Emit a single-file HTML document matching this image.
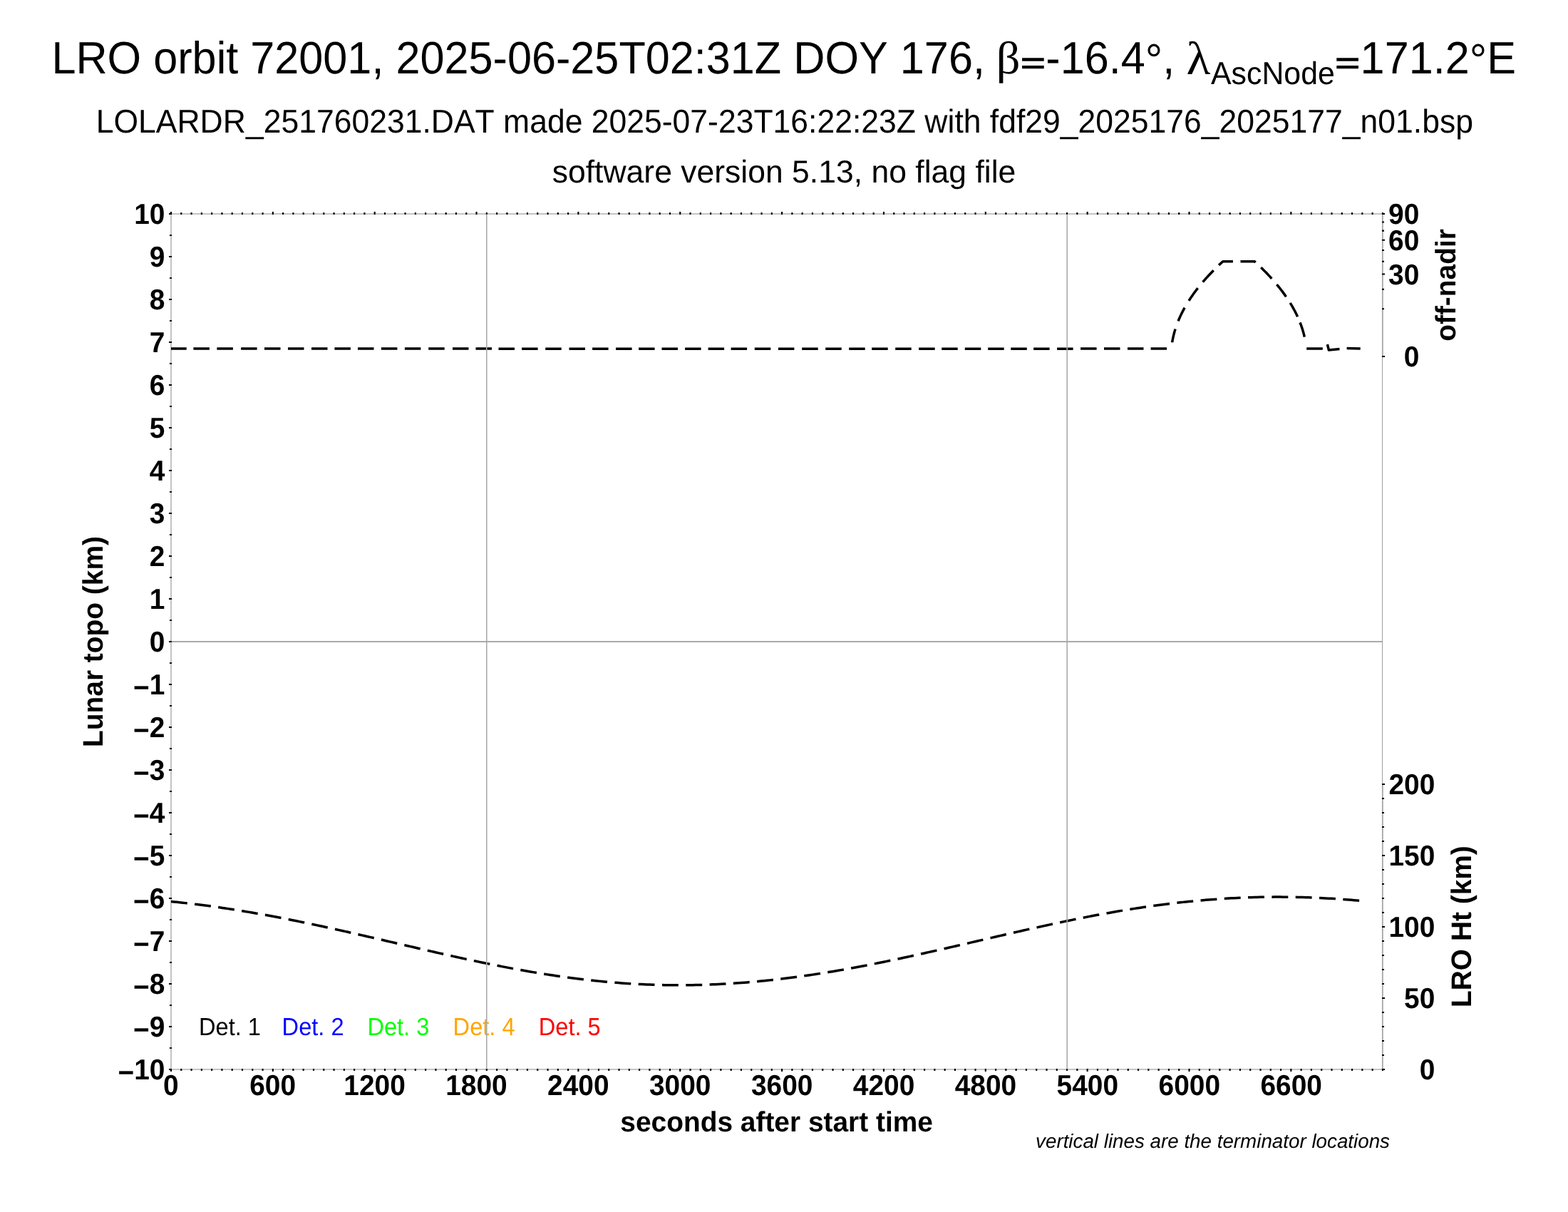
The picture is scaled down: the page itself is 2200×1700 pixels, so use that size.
<!DOCTYPE html>
<html lang="en"><head><meta charset="utf-8"><title>LRO orbit 72001</title>
<style>
html,body{margin:0;padding:0;background:#fff;}
body{width:2200px;height:1700px;overflow:hidden;}
svg{display:block;}
text{font-family:"Liberation Sans",sans-serif;fill:#000;font-kerning:none;font-variant-ligatures:none;text-rendering:geometricPrecision;}
.b{font-weight:bold;}
.i{font-style:italic;}
.sym{font-family:"Liberation Serif","DejaVu Serif",serif;}
.tk{font-weight:bold;font-size:38.89px;}
</style></head><body>
<svg width="2200" height="1700" viewBox="0 0 2200 1700" role="img" aria-label="LRO orbit 72001 LOLA RDR summary plot">
<rect x="0" y="0" width="2200" height="1700" fill="#fff"/>
<g id="titles">
<text transform="translate(72.4 102.8) scale(1 1.04)" font-size="61.2px">LRO orbit 72001, 2025-06-25T02:31Z DOY 176, </text>
<text transform="translate(1397.65 102.8) scale(1.085 1.051)" font-size="61.11px" class="sym">β</text>
<text transform="translate(1431.6 102.25) scale(1 0.65)" font-size="61.2px" class="b">=</text>
<text transform="translate(1467.3 102.8) scale(1 1.04)" font-size="61.2px">-16.4<tspan dy="2.6">°</tspan><tspan dy="-2.6">, </tspan></text>
<text transform="translate(1664.6 103.84) scale(1.1454 1.0737)" font-size="61.11px" class="sym">λ</text>
<text transform="translate(1699 117.8) scale(1 1.04)" font-size="42.84px">AscNode</text>
<text transform="translate(1872.85 102.25) scale(1 0.65)" font-size="61.2px" class="b">=</text>
<text transform="translate(1908.6 102.8) scale(1 1.04)" font-size="61.2px">171.2<tspan dy="2.6">°</tspan><tspan dy="-2.6">E</tspan></text>
<text transform="translate(1100.8 185.8) scale(1 1.04)" font-size="44.51px" text-anchor="middle">LOLARDR_251760231.DAT made 2025-07-23T16:22:23Z with fdf29_2025176_2025177_n01.bsp</text>
<text transform="translate(1100 255.8)" font-size="44.51px" text-anchor="middle">software version 5.13, no flag file</text>
</g>
<path id="frame" d="M1940 300H240V1500H1940M1940 300V500M1940 1100V1500" fill="none" stroke="#c4c4c4" stroke-width="2.08" stroke-linecap="square"/>
<line x1="1939.55" y1="300" x2="1939.55" y2="1500" stroke="#a5a5a5" stroke-width="1.15"/>
<path id="ticks" d="M240 1499V1503M240 301V297M254.29 1499V1502M254.29 301V298M268.57 1499V1502M268.57 301V298M282.86 1499V1502M282.86 301V298M297.14 1499V1502M297.14 301V298M311.43 1499V1502M311.43 301V298M325.71 1499V1502M325.71 301V298M340 1499V1502M340 301V298M354.28 1499V1502M354.28 301V298M368.57 1499V1502M368.57 301V298M382.85 1499V1503M382.85 301V297M397.14 1499V1502M397.14 301V298M411.42 1499V1502M411.42 301V298M425.71 1499V1502M425.71 301V298M439.99 1499V1502M439.99 301V298M454.28 1499V1502M454.28 301V298M468.56 1499V1502M468.56 301V298M482.85 1499V1502M482.85 301V298M497.13 1499V1502M497.13 301V298M511.42 1499V1502M511.42 301V298M525.7 1499V1503M525.7 301V297M539.99 1499V1502M539.99 301V298M554.27 1499V1502M554.27 301V298M568.56 1499V1502M568.56 301V298M582.84 1499V1502M582.84 301V298M597.13 1499V1502M597.13 301V298M611.41 1499V1502M611.41 301V298M625.7 1499V1502M625.7 301V298M639.98 1499V1502M639.98 301V298M654.27 1499V1502M654.27 301V298M668.55 1499V1503M668.55 301V297M682.84 1499V1502M682.84 301V298M697.12 1499V1502M697.12 301V298M711.41 1499V1502M711.41 301V298M725.69 1499V1502M725.69 301V298M739.98 1499V1502M739.98 301V298M754.26 1499V1502M754.26 301V298M768.55 1499V1502M768.55 301V298M782.83 1499V1502M782.83 301V298M797.12 1499V1502M797.12 301V298M811.4 1499V1503M811.4 301V297M825.69 1499V1502M825.69 301V298M839.97 1499V1502M839.97 301V298M854.26 1499V1502M854.26 301V298M868.54 1499V1502M868.54 301V298M882.83 1499V1502M882.83 301V298M897.11 1499V1502M897.11 301V298M911.4 1499V1502M911.4 301V298M925.68 1499V1502M925.68 301V298M939.97 1499V1502M939.97 301V298M954.25 1499V1503M954.25 301V297M968.54 1499V1502M968.54 301V298M982.83 1499V1502M982.83 301V298M997.11 1499V1502M997.11 301V298M1011.4 1499V1502M1011.4 301V298M1025.68 1499V1502M1025.68 301V298M1039.97 1499V1502M1039.97 301V298M1054.25 1499V1502M1054.25 301V298M1068.54 1499V1502M1068.54 301V298M1082.82 1499V1502M1082.82 301V298M1097.11 1499V1503M1097.11 301V297M1111.39 1499V1502M1111.39 301V298M1125.68 1499V1502M1125.68 301V298M1139.96 1499V1502M1139.96 301V298M1154.25 1499V1502M1154.25 301V298M1168.53 1499V1502M1168.53 301V298M1182.82 1499V1502M1182.82 301V298M1197.1 1499V1502M1197.1 301V298M1211.39 1499V1502M1211.39 301V298M1225.67 1499V1502M1225.67 301V298M1239.96 1499V1503M1239.96 301V297M1254.24 1499V1502M1254.24 301V298M1268.53 1499V1502M1268.53 301V298M1282.81 1499V1502M1282.81 301V298M1297.1 1499V1502M1297.1 301V298M1311.38 1499V1502M1311.38 301V298M1325.67 1499V1502M1325.67 301V298M1339.95 1499V1502M1339.95 301V298M1354.24 1499V1502M1354.24 301V298M1368.52 1499V1502M1368.52 301V298M1382.81 1499V1503M1382.81 301V297M1397.09 1499V1502M1397.09 301V298M1411.38 1499V1502M1411.38 301V298M1425.66 1499V1502M1425.66 301V298M1439.95 1499V1502M1439.95 301V298M1454.23 1499V1502M1454.23 301V298M1468.52 1499V1502M1468.52 301V298M1482.8 1499V1502M1482.8 301V298M1497.09 1499V1502M1497.09 301V298M1511.37 1499V1502M1511.37 301V298M1525.66 1499V1503M1525.66 301V297M1539.94 1499V1502M1539.94 301V298M1554.23 1499V1502M1554.23 301V298M1568.51 1499V1502M1568.51 301V298M1582.8 1499V1502M1582.8 301V298M1597.08 1499V1502M1597.08 301V298M1611.37 1499V1502M1611.37 301V298M1625.65 1499V1502M1625.65 301V298M1639.94 1499V1502M1639.94 301V298M1654.22 1499V1502M1654.22 301V298M1668.51 1499V1503M1668.51 301V297M1682.8 1499V1502M1682.8 301V298M1697.08 1499V1502M1697.08 301V298M1711.37 1499V1502M1711.37 301V298M1725.65 1499V1502M1725.65 301V298M1739.94 1499V1502M1739.94 301V298M1754.22 1499V1502M1754.22 301V298M1768.51 1499V1502M1768.51 301V298M1782.79 1499V1502M1782.79 301V298M1797.08 1499V1502M1797.08 301V298M1811.36 1499V1503M1811.36 301V297M1825.65 1499V1502M1825.65 301V298M1839.93 1499V1502M1839.93 301V298M1854.22 1499V1502M1854.22 301V298M1868.5 1499V1502M1868.5 301V298M1882.79 1499V1502M1882.79 301V298M1897.07 1499V1502M1897.07 301V298M1911.36 1499V1502M1911.36 301V298M1925.64 1499V1502M1925.64 301V298M1939.93 1499V1502M1939.93 301V298M241 1500H237M241 1470H238M241 1440H237M241 1410H238M241 1380H237M241 1350H238M241 1320H237M241 1290H238M241 1260H237M241 1230H238M241 1200H237M241 1170H238M241 1140H237M241 1110H238M241 1080H237M241 1050H238M241 1020H237M241 990H238M241 960H237M241 930H238M241 900H237M241 870H238M241 840H237M241 810H238M241 780H237M241 750H238M241 720H237M241 690H238M241 660H237M241 630H238M241 600H237M241 570H238M241 540H237M241 510H238M241 480H237M241 450H238M241 420H237M241 390H238M241 360H237M241 330H238M241 300H237M1939 500H1943M1939 433.33H1942M1939 405.72H1942M1939 384.53H1943M1939 366.67H1942M1939 350.93H1942M1939 336.7H1943M1939 323.62H1942M1939 311.44H1942M1939 300H1943M1939 1500H1943M1939 1480H1942M1939 1460H1942M1939 1440H1942M1939 1420H1942M1939 1400H1943M1939 1380H1942M1939 1360H1942M1939 1340H1942M1939 1320H1942M1939 1300H1943M1939 1280H1942M1939 1260H1942M1939 1240H1942M1939 1220H1942M1939 1200H1943M1939 1180H1942M1939 1160H1942M1939 1140H1942M1939 1120H1942M1939 1100H1943" stroke="#000" stroke-width="2.08" fill="none"/>
<g id="xlabels" class="tk">
<text transform="translate(239.7 1536.2) scale(1 1.04)" text-anchor="middle">0</text>
<text transform="translate(382.61 1536.2) scale(1 1.04)" text-anchor="middle">600</text>
<text transform="translate(525.51 1536.2) scale(1 1.04)" text-anchor="middle">1200</text>
<text transform="translate(668.42 1536.2) scale(1 1.04)" text-anchor="middle">1800</text>
<text transform="translate(811.32 1536.2) scale(1 1.04)" text-anchor="middle">2400</text>
<text transform="translate(954.23 1536.2) scale(1 1.04)" text-anchor="middle">3000</text>
<text transform="translate(1097.13 1536.2) scale(1 1.04)" text-anchor="middle">3600</text>
<text transform="translate(1240.04 1536.2) scale(1 1.04)" text-anchor="middle">4200</text>
<text transform="translate(1382.94 1536.2) scale(1 1.04)" text-anchor="middle">4800</text>
<text transform="translate(1525.85 1536.2) scale(1 1.04)" text-anchor="middle">5400</text>
<text transform="translate(1668.76 1536.2) scale(1 1.04)" text-anchor="middle">6000</text>
<text transform="translate(1811.66 1536.2) scale(1 1.04)" text-anchor="middle">6600</text>
</g>
<g id="ylabels" class="tk">
<text transform="translate(231.4 314.1) scale(1 1.04)" text-anchor="end">10</text>
<text transform="translate(231.4 374.1) scale(1 1.04)" text-anchor="end">9</text>
<text transform="translate(231.4 434.1) scale(1 1.04)" text-anchor="end">8</text>
<text transform="translate(231.4 494.1) scale(1 1.04)" text-anchor="end">7</text>
<text transform="translate(231.4 554.1) scale(1 1.04)" text-anchor="end">6</text>
<text transform="translate(231.4 614.1) scale(1 1.04)" text-anchor="end">5</text>
<text transform="translate(231.4 674.1) scale(1 1.04)" text-anchor="end">4</text>
<text transform="translate(231.4 734.1) scale(1 1.04)" text-anchor="end">3</text>
<text transform="translate(231.4 794.1) scale(1 1.04)" text-anchor="end">2</text>
<text transform="translate(231.4 854.1) scale(1 1.04)" text-anchor="end">1</text>
<text transform="translate(231.4 914.1) scale(1 1.04)" text-anchor="end">0</text>
<text transform="translate(231.4 974.1) scale(1 1.04)" text-anchor="end"><tspan dy="3.9">−</tspan><tspan dy="-3.9">1</tspan></text>
<text transform="translate(231.4 1034.1) scale(1 1.04)" text-anchor="end"><tspan dy="3.9">−</tspan><tspan dy="-3.9">2</tspan></text>
<text transform="translate(231.4 1094.1) scale(1 1.04)" text-anchor="end"><tspan dy="3.9">−</tspan><tspan dy="-3.9">3</tspan></text>
<text transform="translate(231.4 1154.1) scale(1 1.04)" text-anchor="end"><tspan dy="3.9">−</tspan><tspan dy="-3.9">4</tspan></text>
<text transform="translate(231.4 1214.1) scale(1 1.04)" text-anchor="end"><tspan dy="3.9">−</tspan><tspan dy="-3.9">5</tspan></text>
<text transform="translate(231.4 1274.1) scale(1 1.04)" text-anchor="end"><tspan dy="3.9">−</tspan><tspan dy="-3.9">6</tspan></text>
<text transform="translate(231.4 1334.1) scale(1 1.04)" text-anchor="end"><tspan dy="3.9">−</tspan><tspan dy="-3.9">7</tspan></text>
<text transform="translate(231.4 1394.1) scale(1 1.04)" text-anchor="end"><tspan dy="3.9">−</tspan><tspan dy="-3.9">8</tspan></text>
<text transform="translate(231.4 1454.1) scale(1 1.04)" text-anchor="end"><tspan dy="3.9">−</tspan><tspan dy="-3.9">9</tspan></text>
<text transform="translate(231.4 1514.1) scale(1 1.04)" text-anchor="end"><tspan dy="3.9">−</tspan><tspan dy="-3.9">10</tspan></text>
</g>
<g id="rlabels" class="tk">
<text transform="translate(1991.3 314.1) scale(1 1.04)" text-anchor="end">90</text>
<text transform="translate(1991.3 350.8) scale(1 1.04)" text-anchor="end">60</text>
<text transform="translate(1991.3 398.63) scale(1 1.04)" text-anchor="end">30</text>
<text transform="translate(1991.3 514.1) scale(1 1.04)" text-anchor="end">0</text>
<text transform="translate(2013.3 1114.1) scale(1 1.04)" text-anchor="end">200</text>
<text transform="translate(2013.3 1214.1) scale(1 1.04)" text-anchor="end">150</text>
<text transform="translate(2013.3 1314.1) scale(1 1.04)" text-anchor="end">100</text>
<text transform="translate(2013.3 1414.1) scale(1 1.04)" text-anchor="end">50</text>
<text transform="translate(2013.3 1514.1) scale(1 1.04)" text-anchor="end">0</text>
</g>
<g id="axlabels">
<text transform="translate(1089.6 1587.4) scale(1 1.02)" font-size="38.89px" class="b" text-anchor="middle">seconds after start time</text>
<text transform="translate(144.2 900) rotate(-90) scale(1 1.02)" font-size="38.89px" class="b" text-anchor="middle">Lunar topo (km)</text>
<text transform="translate(2042.1 400) rotate(-90) scale(1 1.02)" font-size="38.89px" class="b" text-anchor="middle">off-nadir</text>
<text transform="translate(2064 1299.6) rotate(-90) scale(1 1.02)" font-size="38.89px" class="b" text-anchor="middle">LRO Ht (km)</text>
</g>
<text transform="translate(1950 1610.3)" font-size="27.78px" class="i" text-anchor="end">vertical lines are the terminator locations</text>
<g id="legend">
<text transform="translate(279 1451.8) scale(1 1.065)" font-size="32.6px" style="fill:#000">Det. 1</text>
<text transform="translate(395.6 1451.8) scale(1 1.065)" font-size="32.6px" style="fill:#0000ff">Det. 2</text>
<text transform="translate(515.4 1451.8) scale(1 1.065)" font-size="32.6px" style="fill:#00ff00">Det. 3</text>
<text transform="translate(635.6 1451.8) scale(1 1.065)" font-size="32.6px" style="fill:#ffa500">Det. 4</text>
<text transform="translate(755.8 1451.8) scale(1 1.065)" font-size="32.6px" style="fill:#ff0000">Det. 5</text>
</g>
<g id="curves" stroke="#000" stroke-width="3.5" fill="none">
<path d="M240 489h21.7M271.4 489h22.5M304.4 489h22.5M338.1 489h22.5M371 489h22.5M404 489h22.5M437 489h22.5M469.4 489h22.5M502 489h22.5M534.9 489h22.5M567.9 489h22.5M601.2 489h22.5M635 489h22.5M667.5 489h22.5M699.5 489.3h22.5M732.1 489.3h22.5M765.2 489.3h22.5M798.5 489.3h22.5M831.1 489.3h22.5M864.1 489.3h22.5M896.1 489.3h22.5M928.5 489.3h22.5M961.1 489.3h22.5M993.6 489.3h22.5M1025.6 489.3h22.5M1058.8 489.3h22.5M1091.9 489.3h22.5M1125.2 489.3h22.5M1158.2 489.3h22.5M1191.2 489.3h22.5M1223.2 489.3h22.5M1256.2 489.3h22.5M1289.2 489.3h22.5M1321.2 489.3h22.5M1353.8 489.3h22.5M1386.2 489.3h22.5M1418.3 489.3h22.5M1450.1 489.3h22.5M1483.1 489.3h22.5M1516.1 489h22.5M1549 489h22.5M1582 489h22.5M1614.6 489h22.5"/>
<path d="M1644.6 480.26L1645.35 476.07L1646.1 472.5L1646.85 469.35L1647.6 466.5L1648.35 463.87L1649.1 461.42M1653.1 450.35L1653.8 448.65L1654.5 447.02L1655.2 445.43L1655.9 443.88L1656.6 442.38L1657.3 440.91L1658 439.48L1658.7 438.09L1659.4 436.72L1660.1 435.39L1660.8 434.08L1661.5 432.79L1662.2 431.53M1668 421.87L1668.74 420.72L1669.48 419.59L1670.22 418.47L1670.96 417.37L1671.71 416.28L1672.45 415.2L1673.19 414.14L1673.93 413.1L1674.67 412.06L1675.41 411.04L1676.15 410.03L1676.89 409.03L1677.64 408.04L1678.38 407.06L1679.12 406.09L1679.86 405.13L1680.6 404.18M1687.6 395.64L1688.32 394.8L1689.04 393.97L1689.76 393.15L1690.48 392.33L1691.2 391.52L1691.91 390.71L1692.63 389.91L1693.35 389.11L1694.07 388.32L1694.79 387.54L1695.51 386.76L1696.23 385.99L1696.95 385.22L1697.67 384.46L1698.39 383.7L1699.1 382.95L1699.82 382.2L1700.54 381.46L1701.26 380.72L1701.98 379.99L1702.7 379.26M1710.1 371.99L1710.83 371.3L1711.57 370.6L1712.3 369.91L1713.03 369.22L1713.77 368.54L1714.5 367.86L1715.23 367.19L1715.8 366.67L1715.97 366.67L1716.7 366.67L1717.43 366.67L1718.17 366.67L1718.9 366.67L1719.63 366.67L1720.37 366.67L1721.1 366.67L1721.83 366.67L1722.57 366.67L1723.3 366.67L1724.03 366.67L1724.77 366.67L1725.5 366.67L1726.23 366.67L1726.97 366.67L1727.7 366.67L1728.43 366.67L1729.17 366.67L1729.9 366.67M1740.5 366.67L1741.23 366.67L1741.96 366.67L1742.69 366.67L1743.42 366.67L1744.16 366.67L1744.89 366.67L1745.62 366.67L1746.35 366.67L1747.08 366.67L1747.81 366.67L1748.54 366.67L1749.27 366.67L1750 366.67L1750.73 366.67L1751.47 366.67L1752.2 366.67L1752.93 366.67L1753.66 366.67L1754.39 366.67L1755.12 366.67L1755.85 366.67L1756.58 366.67L1757.31 366.67L1758.04 366.67L1758.78 366.67L1759.51 366.67L1760.2 366.67L1760.24 366.7L1760.97 367.37L1761.7 368.04M1769.2 375.13L1769.92 375.83L1770.64 376.54L1771.36 377.25L1772.08 377.96L1772.8 378.68L1773.51 379.4L1774.23 380.13L1774.95 380.86L1775.67 381.59L1776.39 382.33L1777.11 383.08L1777.83 383.83L1778.55 384.58L1779.27 385.34L1779.99 386.1L1780.7 386.87L1781.42 387.65L1782.14 388.43L1782.86 389.21L1783.58 390L1784.3 390.8M1791.4 399L1792.13 399.88L1792.86 400.77L1793.58 401.66L1794.31 402.57L1795.04 403.48L1795.77 404.4L1796.49 405.33L1797.22 406.27L1797.95 407.21L1798.68 408.17L1799.41 409.14L1800.13 410.12L1800.86 411.1L1801.59 412.1L1802.32 413.12L1803.04 414.14L1803.77 415.17L1804.5 416.22M1810.2 424.94L1810.94 426.15L1811.69 427.38L1812.43 428.64L1813.17 429.91L1813.91 431.21L1814.66 432.53L1815.4 433.88L1816.14 435.26L1816.89 436.67L1817.63 438.11L1818.37 439.59L1819.11 441.1L1819.86 442.65L1820.6 444.25M1824.1 452.48L1824.79 454.27L1825.48 456.14L1826.17 458.09L1826.86 460.14L1827.54 462.29L1828.23 464.58L1828.92 467.03L1829.61 469.67L1830.3 472.57M1833.2 489L1833.93 489L1834.66 489L1835.39 489L1836.12 489L1836.85 489L1837.57 489L1838.3 489L1839.03 489L1839.76 489L1840.49 489L1841.22 489L1841.95 489L1842.68 489L1843.41 489L1844.14 489L1844.86 489L1845.59 489L1846.32 489L1847.05 489L1847.78 489L1848.51 489L1849.24 489L1849.97 489L1850.7 489L1851.43 489L1852.15 489L1852.88 489L1853.61 489L1854.34 489L1855.07 489L1855.8 489M1862.4 483L1864.4 491.1L1879.5 489.6M1889.6 488.6L1908.7 489.1" stroke-linejoin="round"/>
<path d="M240 1264.5L244 1264.9L248 1265.31L252 1265.73L256 1266.17L260 1266.62L264 1267.07L268 1267.54L272 1268.02L276 1268.51L280 1269.02L284 1269.53L288 1270.05L292 1270.59L296 1271.13L300 1271.68L304 1272.25L308 1272.82L312 1273.41L316 1274L320 1274.61L324 1275.22L328 1275.85L332 1276.48L336 1277.13L340 1277.78L344 1278.44L348 1279.11L352 1279.79L356 1280.48L360 1281.18L364 1281.89L368 1282.6L372 1283.32L376 1284.06L380 1284.8L384 1285.54L388 1286.3L392 1287.06L396 1287.83L400 1288.61L404 1289.4L408 1290.19L412 1290.99L416 1291.79L420 1292.61L424 1293.43L428 1294.25L432 1295.08L436 1295.92L440 1296.77L444 1297.62L448 1298.47L452 1299.33L456 1300.2L460 1301.07L464 1301.94L468 1302.82L472 1303.71L476 1304.6L480 1305.49L484 1306.39L488 1307.29L492 1308.19L496 1309.1L500 1310.01L504 1310.93L508 1311.84L512 1312.76L516 1313.68L520 1314.61L524 1315.53L528 1316.46L532 1317.39L536 1318.32L540 1319.25L544 1320.18L548 1321.12L552 1322.05L556 1322.98L560 1323.91L564 1324.85L568 1325.78L572 1326.71L576 1327.64L580 1328.57L584 1329.5L588 1330.43L592 1331.35L596 1332.28L600 1333.2L604 1334.12L608 1335.03L612 1335.94L616 1336.85L620 1337.76L624 1338.66L628 1339.56L632 1340.46L636 1341.35L640 1342.23L644 1343.11L648 1343.99L652 1344.86L656 1345.72L660 1346.58L664 1347.44L668 1348.28L672 1349.13L676 1349.96L680 1350.79L684 1351.61L688 1352.42L692 1353.23L696 1354.03L700 1354.82L704 1355.6L708 1356.37L712 1357.14L716 1357.9L720 1358.65L724 1359.39L728 1360.12L732 1360.84L736 1361.55L740 1362.25L744 1362.94L748 1363.62L752 1364.29L756 1364.95L760 1365.6L764 1366.24L768 1366.87L772 1367.49L776 1368.09L780 1368.68L784 1369.27L788 1369.84L792 1370.4L796 1370.94L800 1371.48L804 1372L808 1372.51L812 1373.01L816 1373.49L820 1373.96L824 1374.42L828 1374.87L832 1375.3L836 1375.72L840 1376.13L844 1376.52L848 1376.9L852 1377.26L856 1377.62L860 1377.96L864 1378.28L868 1378.59L872 1378.89L876 1379.17L880 1379.44L884 1379.7L888 1379.94L892 1380.16L896 1380.38L900 1380.57L904 1380.76L908 1380.93L912 1381.08L916 1381.22L920 1381.35L924 1381.46L928 1381.56L932 1381.64L936 1381.71L940 1381.77L944 1381.81L948 1381.83L952 1381.84L956 1381.84L960 1381.82L964 1381.79L968 1381.75L972 1381.69L976 1381.61L980 1381.53L984 1381.42L988 1381.31L992 1381.18L996 1381.03L1000 1380.87L1004 1380.7L1008 1380.51L1012 1380.31L1016 1380.1L1020 1379.87L1024 1379.63L1028 1379.37L1032 1379.11L1036 1378.82L1040 1378.53L1044 1378.22L1048 1377.9L1052 1377.57L1056 1377.22L1060 1376.86L1064 1376.49L1068 1376.1L1072 1375.7L1076 1375.29L1080 1374.87L1084 1374.43L1088 1373.99L1092 1373.53L1096 1373.05L1100 1372.57L1104 1372.08L1108 1371.57L1112 1371.05L1116 1370.52L1120 1369.98L1124 1369.43L1128 1368.86L1132 1368.29L1136 1367.71L1140 1367.11L1144 1366.5L1148 1365.89L1152 1365.26L1156 1364.62L1160 1363.98L1164 1363.32L1168 1362.66L1172 1361.98L1176 1361.3L1180 1360.6L1184 1359.9L1188 1359.19L1192 1358.47L1196 1357.74L1200 1357L1204 1356.25L1208 1355.5L1212 1354.74L1216 1353.97L1220 1353.19L1224 1352.4L1228 1351.61L1232 1350.81L1236 1350.01L1240 1349.19L1244 1348.37L1248 1347.55L1252 1346.72L1256 1345.88L1260 1345.03L1264 1344.18L1268 1343.33L1272 1342.47L1276 1341.6L1280 1340.73L1284 1339.86L1288 1338.98L1292 1338.09L1296 1337.2L1300 1336.31L1304 1335.41L1308 1334.51L1312 1333.61L1316 1332.7L1320 1331.79L1324 1330.88L1328 1329.97L1332 1329.05L1336 1328.13L1340 1327.21L1344 1326.29L1348 1325.36L1352 1324.44L1356 1323.51L1360 1322.58L1364 1321.65L1368 1320.72L1372 1319.79L1376 1318.87L1380 1317.94L1384 1317.01L1388 1316.08L1392 1315.15L1396 1314.22L1400 1313.3L1404 1312.38L1408 1311.45L1412 1310.53L1416 1309.62L1420 1308.7L1424 1307.79L1428 1306.88L1432 1305.97L1436 1305.06L1440 1304.16L1444 1303.26L1448 1302.37L1452 1301.48L1456 1300.6L1460 1299.71L1464 1298.84L1468 1297.97L1472 1297.1L1476 1296.24L1480 1295.38L1484 1294.53L1488 1293.69L1492 1292.85L1496 1292.02L1500 1291.19L1504 1290.37L1508 1289.56L1512 1288.75L1516 1287.96L1520 1287.16L1524 1286.38L1528 1285.61L1532 1284.84L1536 1284.08L1540 1283.33L1544 1282.58L1548 1281.85L1552 1281.12L1556 1280.41L1560 1279.7L1564 1279L1568 1278.31L1572 1277.63L1576 1276.96L1580 1276.3L1584 1275.65L1588 1275.01L1592 1274.38L1596 1273.77L1600 1273.16L1604 1272.56L1608 1271.97L1612 1271.4L1616 1270.83L1620 1270.28L1624 1269.73L1628 1269.2L1632 1268.68L1636 1268.17L1640 1267.68L1644 1267.19L1648 1266.72L1652 1266.26L1656 1265.81L1660 1265.37L1664 1264.95L1668 1264.54L1672 1264.14L1676 1263.75L1680 1263.37L1684 1263.01L1688 1262.66L1692 1262.32L1696 1262L1700 1261.69L1704 1261.39L1708 1261.1L1712 1260.83L1716 1260.57L1720 1260.32L1724 1260.09L1728 1259.87L1732 1259.66L1736 1259.46L1740 1259.28L1744 1259.11L1748 1258.96L1752 1258.81L1756 1258.68L1760 1258.57L1764 1258.46L1768 1258.37L1772 1258.3L1776 1258.23L1780 1258.18L1784 1258.15L1788 1258.12L1792 1258.11L1796 1258.11L1800 1258.13L1804 1258.16L1808 1258.2L1812 1258.25L1816 1258.32L1820 1258.4L1824 1258.49L1828 1258.6L1832 1258.72L1836 1258.85L1840 1258.99L1844 1259.15L1848 1259.32L1852 1259.51L1856 1259.7L1860 1259.91L1864 1260.13L1868 1260.36L1872 1260.61L1876 1260.86L1880 1261.13L1884 1261.42L1888 1261.71L1892 1262.02L1896 1262.34L1900 1262.67L1904 1263.01L1907.5 1263.32" stroke-dasharray="22.9 10.43"/>
</g>
<g id="grid" stroke="#aaaaaa" fill="none">
<line x1="682.8" y1="300.5" x2="682.8" y2="1499.5" stroke-width="1.6"/>
<line x1="1497.2" y1="300.5" x2="1497.2" y2="1499.5" stroke-width="1.6"/>
<line x1="240.8" y1="900" x2="1939.5" y2="900" stroke-width="2"/>
</g>
</svg>
</body></html>
